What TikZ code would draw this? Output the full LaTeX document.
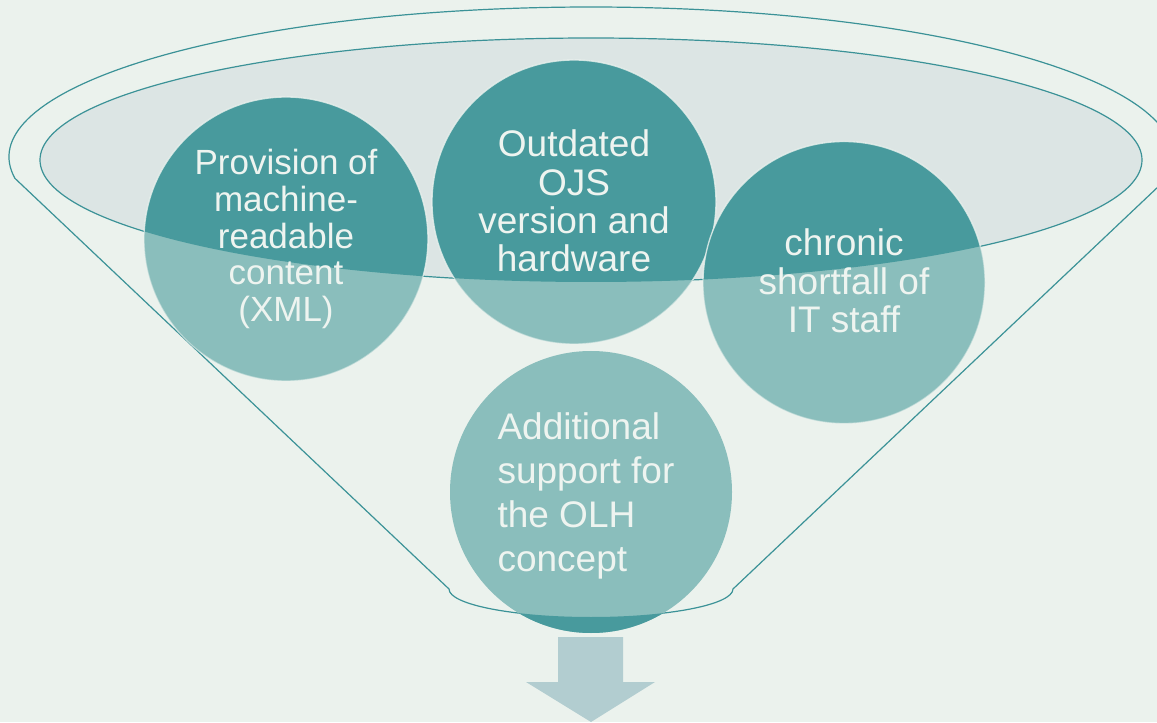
\documentclass[tikz,border=0pt]{standalone}
\usepackage{fontspec}
\setmainfont{Liberation Sans}
\usetikzlibrary{calc}
\definecolor{bgc}{HTML}{EBF2ED}
\definecolor{ellc}{HTML}{DCE5E4}
\definecolor{linec}{HTML}{3B9297}
\definecolor{darkc}{HTML}{489A9D}
\definecolor{lightc}{HTML}{8ABEBC}
\definecolor{arrowc}{HTML}{B2CDD0}
\definecolor{txtc}{HTML}{EEF4F0}
\tikzset{
  outline/.style={draw=linec, line width=0.9pt},
  bubble/.style={circle, inner sep=0pt, fill=lightc},
  rim/.style={draw=txtc, line width=1pt, draw opacity=0.8},
  ctext/.style={align=center, text=txtc, inner sep=0pt, font=\fontsize{27.75pt}{28.7pt}\selectfont},
  stext/.style={align=center, text=txtc, inner sep=0pt, font=\fontsize{26.25pt}{27.4pt}\selectfont},
  ltext/.style={align=left, text=txtc, inner sep=0pt, font=\fontsize{27.75pt}{33pt}\selectfont},
}
\begin{document}
\begin{tikzpicture}[x=0.75pt, y=0.75pt]
\fill[bgc] (0,0) rectangle (1157,722);
\useasboundingbox (0,0) rectangle (1157,722);
% funnel geometry
\coordinate (oc) at (591,565);
\coordinate (L) at ($(oc)+(188.2:436.5pt and 112.5pt)$);
\coordinate (R) at ($(oc)+(-8.2:436.5pt and 112.5pt)$);
\coordinate (BR) at (733,133);
\coordinate (BL) at (449,133);
\coordinate (ic) at (591,562);
% funnel outline
\draw[outline] (L) arc[start angle=188.2, end angle=-8.2, x radius=436.5pt, y radius=112.5pt]
  -- (BR) arc[start angle=0, end angle=-180, x radius=106.5pt, y radius=21pt] -- cycle;
% inner ellipse
\filldraw[fill=ellc, outline] (ic) ellipse[x radius=413.25pt, y radius=91.5pt];
% circles (light)
\node[bubble, minimum size=213pt] (c1) at (286,483) {};
\node[bubble, minimum size=213pt] (c2) at (574,520) {};
\node[bubble, minimum size=211.5pt] (c3) at (844,439.5) {};
\node[bubble, minimum size=211.5pt] (c4) at (591,230) {};
% dark parts inside ellipse
\begin{scope}
  \clip (ic) ellipse[x radius=413.25pt, y radius=91.5pt];
  \fill[darkc] (c1.center) circle[radius=106.5pt];
  \draw[rim] (c1.center) circle[radius=106.5pt];
  \fill[darkc] (c2.center) circle[radius=106.5pt];
  \draw[rim] (c2.center) circle[radius=106.5pt];
  \fill[darkc] (c3.center) circle[radius=105.75pt];
  \draw[rim] (c3.center) circle[radius=105.75pt];
\end{scope}
% dark part of bottom circle below the funnel
\begin{scope}
  \clip (BR) arc[start angle=0, end angle=-180, x radius=106.5pt, y radius=21pt] -- (449,0) -- (733,0) -- cycle;
  \fill[darkc] (c4.center) circle[radius=105.75pt];
\end{scope}
% light rims outside
\begin{scope}[even odd rule]
  \clip (0,0) rectangle (1157,722) (ic) ellipse[x radius=413.25pt, y radius=91.5pt];
  \draw[rim, draw opacity=0.5] (c1.center) circle[radius=106.5pt];
  \draw[rim, draw opacity=0.5] (c2.center) circle[radius=106.5pt];
  \draw[rim, draw opacity=0.5] (c3.center) circle[radius=105.75pt];
\end{scope}
% texts
\node[stext] (t1) at (286,483) {Provision of\\machine-\\readable\\content\\(XML)};
\node[ctext] (t2) at (574,521) {Outdated\\OJS\\version and\\hardware};
\node[ctext] (t3) at (844,441) {chronic\\shortfall of\\IT staff};
\node[ltext] (t4) at (586,226) {Additional\\support for\\the OLH\\concept};
% arrow
\fill[arrowc] (558,85) -- (623,85) -- (623,40) -- (655,40) -- (591,0) -- (526,40) -- (558,40) -- cycle;
\end{tikzpicture}
\end{document}
